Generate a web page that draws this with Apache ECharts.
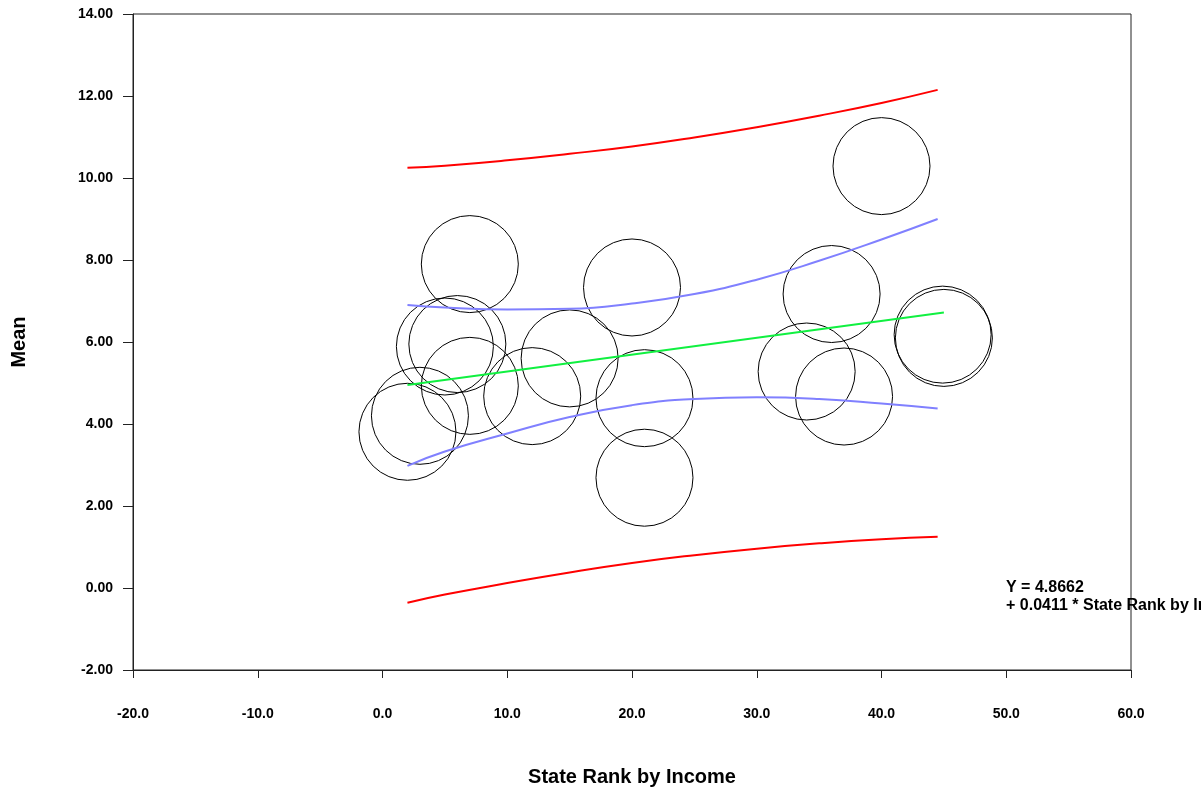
<!DOCTYPE html>
<html>
<head>
<meta charset="utf-8">
<script src="https://cdn.jsdelivr.net/npm/echarts@6/dist/echarts.min.js"></script>
<style>
html,body{margin:0;padding:0;background:#fff;}
#chart{width:1201px;height:793px;}
</style>
</head>
<body>
<div id="chart"></div>
<script>
// State rank by income (x) and mean (y) for each observation
var rankX = [2, 3, 5, 6, 7, 7, 12, 15, 20, 21, 21, 34, 36, 37, 40, 44.9, 45];
var meanY = [3.81, 4.20, 5.89, 5.95, 7.90, 4.93, 4.68, 5.60, 7.33, 4.63, 2.69, 5.28, 7.17, 4.67, 10.29, 6.18, 6.10];

// Regression line endpoints
var fitX = [2, 45];
var fitY = [4.95, 6.72];

// Confidence / prediction bands
var bandX = [2, 5, 10, 15, 20, 25, 30, 35, 40, 44.5];
var confUpper = [6.90, 6.84, 6.79, 6.81, 6.94, 7.17, 7.52, 7.98, 8.50, 9.00];
var confLower = [2.98, 3.33, 3.77, 4.17, 4.46, 4.61, 4.65, 4.61, 4.50, 4.38];
var predUpper = [10.25, 10.30, 10.43, 10.59, 10.77, 10.99, 11.24, 11.52, 11.83, 12.15];
var predLower = [-0.36, -0.16, 0.12, 0.38, 0.61, 0.80, 0.96, 1.09, 1.19, 1.25];

var intercept = '4.8662';
var slope = '0.0411';
var xTitle = 'State Rank by Income';
var yTitle = 'Mean';

function pairs(xs, ys) { return xs.map(function (x, i) { return [x, ys[i]]; }); }

var font = 'Arial, "Liberation Sans", Helvetica, sans-serif';
var chart = echarts.init(document.getElementById('chart'), null, {renderer: 'canvas'});

var lineBase = {type: 'line', showSymbol: false, symbol: 'none', smooth: true, silent: true, z: 3};

chart.setOption({
  animation: false,
  backgroundColor: '#fff',
  grid: {left: 133, right: 70, top: 14, bottom: 123, show: true, borderColor: '#222', borderWidth: 1, backgroundColor: 'transparent'},
  xAxis: {
    type: 'value', min: -20, max: 60, interval: 10,
    name: xTitle, nameLocation: 'middle', nameGap: 97,
    nameTextStyle: {fontFamily: font, fontWeight: 'bold', fontSize: 20, color: '#000'},
    axisLine: {show: true, onZero: false, lineStyle: {color: '#222', width: 1}},
    axisTick: {show: true, inside: false, length: 8, lineStyle: {color: '#222', width: 1}},
    axisLabel: {margin: 37, fontFamily: font, fontWeight: 'bold', fontSize: 14, color: '#000',
      formatter: function (v) { return v.toFixed(1); }},
    splitLine: {show: false}
  },
  yAxis: {
    type: 'value', min: -2, max: 14, interval: 2,
    name: yTitle, nameLocation: 'middle', nameGap: 104, nameRotate: 90,
    nameTextStyle: {fontFamily: font, fontWeight: 'bold', fontSize: 20, color: '#000'},
    axisLine: {show: true, onZero: false, lineStyle: {color: '#222', width: 1}},
    axisTick: {show: true, inside: false, length: 10, lineStyle: {color: '#222', width: 1}},
    axisLabel: {margin: 20, fontFamily: font, fontWeight: 'bold', fontSize: 14, color: '#000',
      formatter: function (v) { return v.toFixed(2); }},
    splitLine: {show: false}
  },
  graphic: [{
    type: 'text', left: 1006, top: 579, z: 10, silent: true,
    style: {text: 'Y = ' + intercept + '\n+ ' + slope + ' * ' + xTitle,
      font: 'bold 16px ' + font, fill: '#000', lineHeight: 18}
  }],
  series: [
    {type: 'scatter', data: pairs(rankX, meanY), symbol: 'circle', symbolSize: 97, silent: true, z: 2,
      itemStyle: {color: 'rgba(0,0,0,0)', borderColor: '#000', borderWidth: 1, opacity: 1},
      emphasis: {disabled: true}},
    Object.assign({}, lineBase, {data: pairs(fitX, fitY), smooth: false, lineStyle: {color: '#10f040', width: 2}}),
    Object.assign({}, lineBase, {data: pairs(bandX, confUpper), lineStyle: {color: '#8080ff', width: 2}}),
    Object.assign({}, lineBase, {data: pairs(bandX, confLower), lineStyle: {color: '#8080ff', width: 2}}),
    Object.assign({}, lineBase, {data: pairs(bandX, predUpper), lineStyle: {color: '#ff0000', width: 2}}),
    Object.assign({}, lineBase, {data: pairs(bandX, predLower), lineStyle: {color: '#ff0000', width: 2}})
  ]
});
</script>
</body>
</html>
